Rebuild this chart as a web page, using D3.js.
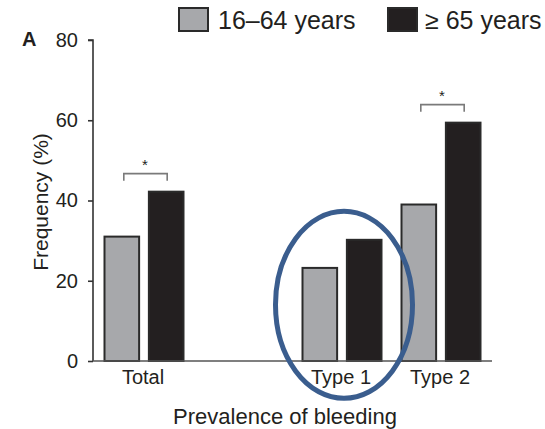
<!DOCTYPE html>
<html>
<head>
<meta charset="utf-8">
<script src="https://cdn.jsdelivr.net/npm/d3@7"></script>
<style>
  html, body { margin: 0; padding: 0; background: #fff; }
  svg { display: block; }
  text { font-family: "Liberation Sans", Arial, Helvetica, sans-serif; fill: #231f20; }
</style>
</head>
<body>
<svg id="chart" width="545" height="429"></svg>
<script>
// Prevalence of bleeding by age group (%)
const categories = ["Total", "Type 1", "Type 2"];
const seriesNames = ["16\u201364 years", "\u2265 65 years"];
const youngValues = [31, 23.2, 39];
const olderValues = [42.2, 30.2, 59.4];
const yTicks = [0, 20, 40, 60, 80];
// Pairs marked as significant
const significant = ["Total", "Type 2"];

const colors = ["#a7a8ab", "#231f20"];

const svg = d3.select("#chart");

// Slot list keeps an empty gap between the total and the per-type groups
const slots = [categories[0], "__gap__", ...categories.slice(1)];

const y = d3.scaleLinear().domain([0, 80]).range([361, 40]);
const x0 = d3.scaleBand().domain(slots).range([94.5, 490.5]).paddingInner(0);
const x1 = d3.scaleBand().domain(seriesNames).range([10, x0.bandwidth() - 10]).paddingInner(0.22);

const rows = categories.map((c, i) => ({
  category: c,
  values: [youngValues[i], olderValues[i]]
}));

// Bars
const groups = svg.append("g").selectAll("g")
  .data(rows).join("g")
  .attr("transform", d => `translate(${x0(d.category)},0)`);

groups.selectAll("rect")
  .data(d => d.values.map((v, j) => ({ name: seriesNames[j], value: v, j })))
  .join("rect")
  .attr("x", d => x1(d.name))
  .attr("y", d => y(d.value))
  .attr("width", x1.bandwidth())
  .attr("height", d => y(0) - y(d.value))
  .attr("fill", d => colors[d.j])
  .attr("stroke", "#2a2a2a")
  .attr("stroke-width", 2);

// Significance brackets
const sigRows = rows.filter(r => significant.includes(r.category));
const br = svg.append("g").selectAll("g").data(sigRows).join("g")
  .attr("transform", d => `translate(${x0(d.category)},0)`);
br.append("path")
  .attr("fill", "none")
  .attr("stroke", "#7a7a7a")
  .attr("stroke-width", 1.6)
  .attr("d", d => {
    const top = y(d3.max(d.values)) - 18;
    const xa = x1(seriesNames[0]) + x1.bandwidth() / 2 + 2;
    const xb = x1(seriesNames[1]) + x1.bandwidth() / 2 + 1;
    return `M${xa},${top + 7}V${top}H${xb}V${top + 7}`;
  });
br.append("text")
  .attr("x", d => (x1(seriesNames[0]) + x1(seriesNames[1]) + x1.bandwidth()) / 2 + 1)
  .attr("y", d => y(d3.max(d.values)) - 18 - 4)
  .attr("text-anchor", "middle")
  .attr("font-size", 15)
  .text("*");

// Y axis
const yAxis = svg.append("g")
  .attr("transform", "translate(93,0)")
  .call(d3.axisLeft(y).tickValues(yTicks).tickSize(5).tickPadding(10).tickFormat(d3.format("d")));
yAxis.select(".domain").attr("stroke", "#333").attr("stroke-width", 1.6).attr("d", `M-5,${y(80)}H0V${y(0)}`);
yAxis.selectAll(".tick line").attr("stroke", "#333").attr("stroke-width", 1.6);
yAxis.selectAll(".tick text")
  .attr("font-size", 20)
  .attr("font-family", "Liberation Sans, Arial, sans-serif")
  .attr("fill", "#231f20");

// Baseline
svg.append("line")
  .attr("x1", 93).attr("x2", 492)
  .attr("y1", y(0)).attr("y2", y(0))
  .attr("stroke", "#555").attr("stroke-width", 1.6);

// Category labels
svg.append("g").selectAll("text")
  .data(categories).join("text")
  .attr("x", d => x0(d) + x0.bandwidth() / 2 - 1)
  .attr("y", 384)
  .attr("text-anchor", "middle")
  .attr("font-size", 20)
  .text(d => d);

// Axis titles
svg.append("text")
  .attr("x", 285).attr("y", 424)
  .attr("text-anchor", "middle")
  .attr("font-size", 22)
  .text("Prevalence of bleeding");

svg.append("text")
  .attr("transform", "translate(48,202) rotate(-90)")
  .attr("text-anchor", "middle")
  .attr("font-size", 21)
  .text("Frequency (%)");

// Panel letter
svg.append("text")
  .attr("x", 22).attr("y", 46)
  .attr("font-size", 20)
  .attr("font-weight", "bold")
  .text("A");

// Legend
const legendX = [178, 387];
const leg = svg.append("g").selectAll("g")
  .data(seriesNames).join("g")
  .attr("transform", (d, i) => `translate(${legendX[i]},0)`);
leg.append("rect")
  .attr("x", 1).attr("y", 8)
  .attr("width", 29).attr("height", 23)
  .attr("fill", (d, i) => colors[i])
  .attr("stroke", "#2a2a2a")
  .attr("stroke-width", 2);
leg.append("text")
  .attr("x", (d, i) => i === 0 ? 40 : 38)
  .attr("y", 28.5)
  .attr("font-size", 25)
  .text(d => d);

// Highlight around the Type 1 group
const cx = x0("Type 1") + x0.bandwidth() / 2 + 2;
svg.append("ellipse")
  .attr("cx", cx)
  .attr("cy", (y(0) + y(28)) / 2)
  .attr("rx", 68.5)
  .attr("ry", 93.5)
  .attr("fill", "none")
  .attr("stroke", "#3a5d8e")
  .attr("stroke-width", 5);
</script>
</body>
</html>
